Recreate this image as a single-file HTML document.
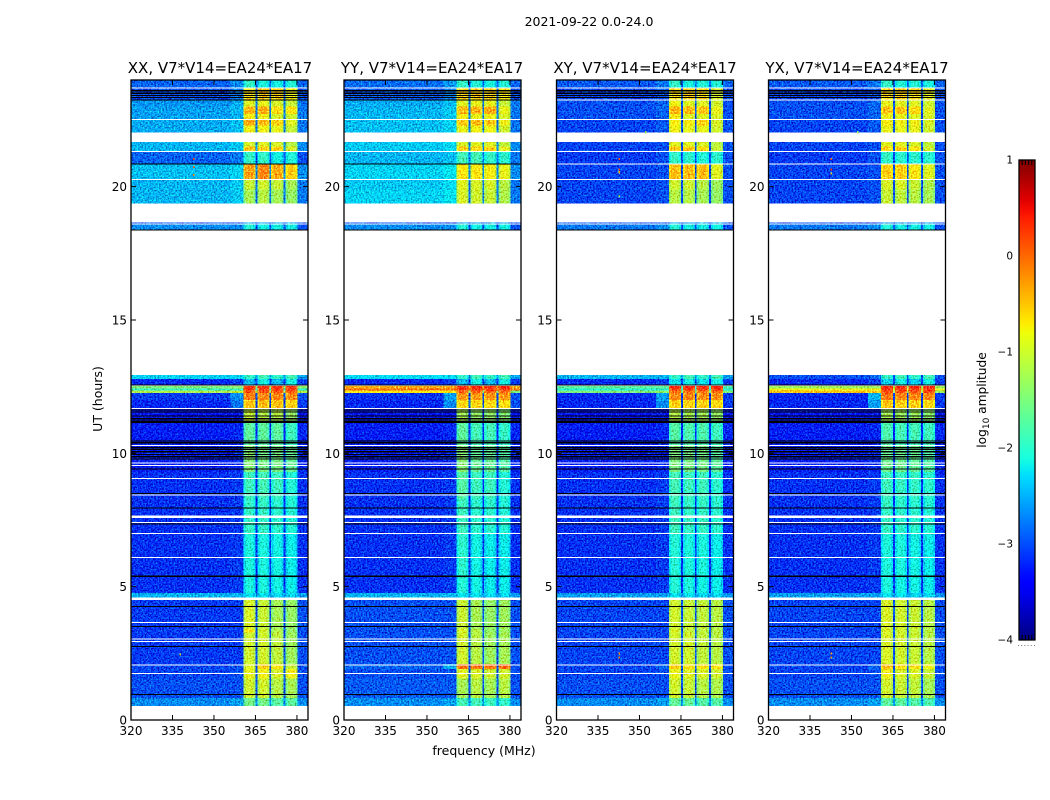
<!DOCTYPE html>
<html>
<head>
<meta charset="utf-8">
<title>2021-09-22 0.0-24.0</title>
<style>
html,body{margin:0;padding:0;background:#fff;}
svg{display:block;font-family:"DejaVu Sans","Liberation Sans",sans-serif;fill:#000;}
</style>
</head>
<body>
<svg id="figure" xmlns="http://www.w3.org/2000/svg" width="1050" height="800" viewBox="0 0 1050 800">
  <defs>
    <filter id="grain" x="0" y="0" width="100%" height="100%" color-interpolation-filters="sRGB">
      <feTurbulence type="fractalNoise" baseFrequency="0.62" numOctaves="2" seed="4" result="n"/>
      <feColorMatrix in="n" type="matrix" values="0.2 0 0 0 0.4  1 0 0 0 0  1 0 0 0 0  0 0 0 0 1" result="g"/>
      <feComposite in="SourceGraphic" in2="g" operator="arithmetic" k1="0" k2="1" k3="1.2" k4="-0.6" result="m"/>
      <feComposite in="m" in2="SourceAlpha" operator="in"/>
    </filter>
    <linearGradient id="jet-gradient" x1="0" y1="1" x2="0" y2="0"></linearGradient>
  </defs>
  <rect x="0" y="0" width="1050" height="800" fill="#fff"/>
  <text x="589" y="26" font-size="12.5" text-anchor="middle">2021-09-22 0.0-24.0</text>
  <text x="220" y="73" font-size="15" text-anchor="middle">XX, V7*V14=EA24*EA17</text>
  <text x="432" y="73" font-size="15" text-anchor="middle">YY, V7*V14=EA24*EA17</text>
  <text x="645" y="73" font-size="15" text-anchor="middle">XY, V7*V14=EA24*EA17</text>
  <text x="857" y="73" font-size="15" text-anchor="middle">YX, V7*V14=EA24*EA17</text>
  <text x="484" y="755" font-size="12.5" text-anchor="middle">frequency (MHz)</text>
  <text transform="translate(102,399) rotate(-90)" font-size="12.5" text-anchor="middle">UT (hours)</text>
  <text transform="translate(986,400) rotate(-90)" font-size="12.2" text-anchor="middle">log<tspan font-size="9" dy="3">10</tspan><tspan dy="-3"> amplitude</tspan></text>
  <g id="panels"></g>
  <g id="colorbar"></g>
</svg>
<script>
/* ---------- axis data ---------- */
const freqTicks = [320, 335, 350, 365, 380];
const hourTicks = [0, 5, 10, 15, 20];
const colorTicks = [1, 0, -1, -2, -3, -4];
const panelNames = ['xx', 'yy', 'xy', 'yx'];

/* ---------- frequency layout (MHz) ---------- */
const bgEdgesLeft = [320, 356];
const bgEdgesMid = [356, 360.6];
const bgEdgesRight = [380.1, 384];
const channelStarts = [360.6, 365.7, 370.7, 375.8];
const channelWidth = 4.45;
const channelProfile = [-0.14, 0.05, 0.08, 0.07, 0.04, -0.12];

/* ---------- time bands (hours) ---------- */
const bandStart = [23.70,23.25,23.00,22.72,22.52,22.30,22.04,21.50,21.34,20.87,20.27,19.90,19.37,18.62,18.39,12.78,12.56,12.43,12.35,12.26,12.00,11.70,11.15,10.30,9.30,8.30,7.00,5.40,4.76,4.53,3.40,3.28,2.10,1.92,1.55,0.82,0.53];
const bandEnd   = [24.00,23.70,23.25,23.00,22.72,22.50,22.30,21.69,21.50,21.30,20.83,20.25,19.90,18.65,18.58,12.94,12.78,12.52,12.43,12.35,12.26,12.00,11.66,11.15,10.30,9.30,8.30,7.00,5.40,4.76,4.50,3.40,3.28,2.10,1.92,1.55,0.82];

/* ---------- log10 amplitude per band: bgLeft, bgMid, bgRight, spw1..spw4 ---------- */
const levelsXX = [
[-2.9,-2.7,-2.9,-2.0,-2.15,-2.2,-2.1],[-3.0,-2.8,-3.0,-0.7,-0.55,-0.6,-0.85],[-2.65,-2.55,-2.8,-0.95,-0.9,-1.0,-1.1],
[-2.6,-2.5,-2.8,-0.45,-0.4,-0.7,-0.75],[-2.6,-2.5,-2.8,-0.8,-0.85,-1.0,-1.05],[-2.55,-2.45,-2.8,-0.4,-0.45,-0.6,-0.95],
[-2.55,-2.45,-2.8,-0.85,-0.85,-0.9,-1.1],[-2.5,-2.4,-2.7,-1.0,-0.95,-1.0,-1.2],[-2.5,-2.4,-2.7,-0.55,-0.6,-0.6,-1.0],
[-2.9,-2.8,-3.0,-2.0,-2.0,-2.2,-2.1],[-2.45,-2.35,-2.7,-0.35,-0.2,-0.4,-0.6],[-2.5,-2.4,-2.8,-1.1,-1.05,-1.1,-1.3],
[-2.5,-2.4,-2.8,-1.3,-1.2,-1.3,-1.4],[-3,-3,-3,-2.6,-2.6,-2.6,-2.6],[-2.7,-2.7,-3,-2.1,-2.2,-2.2,-2.2],
[-2.35,-2.35,-2.6,-2.0,-1.9,-2.0,-1.9],[-3.2,-3.1,-3.1,-2.5,-2.2,-2.5,-2.2],[-1.5,-1.4,-1.4,0.25,0.25,0.25,0.25],
[-1.9,-1.9,-2.0,0.15,0.15,0.15,0.15],[-1.2,-1.1,-1.2,0.05,0.05,0.05,0.05],[-3.1,-2.7,-3.0,-0.15,-0.2,-0.2,-0.25],
[-3.2,-2.8,-3.1,-0.55,-0.5,-0.5,-0.6],[-3.3,-3.3,-3.3,-1.1,-1.2,-1.2,-1.4],[-3.25,-3.2,-3.2,-1.75,-1.75,-1.75,-1.95],
[-3.25,-3.2,-3.2,-1.5,-1.6,-1.6,-1.7],[-3.15,-3.1,-3.15,-1.95,-1.9,-1.95,-2.1],[-3.15,-3.1,-3.15,-2.0,-2.0,-2.05,-2.1],
[-3.15,-3.1,-3.15,-2.15,-2.15,-2.2,-2.25],[-3.15,-3.1,-3.15,-2.15,-2.15,-2.2,-2.25],[-2.5,-2.5,-2.6,-2.3,-2.3,-2.35,-2.35],
[-3.1,-3.1,-3.0,-1.0,-1.1,-1.3,-1.4],[-3.1,-3.1,-3.0,-0.75,-1.05,-1.2,-1.4],[-3.1,-3.1,-3.0,-1.05,-1.05,-1.15,-1.35],
[-3.05,-3.0,-3.0,-0.95,-0.6,-0.75,-1.1],[-3.05,-3.0,-3.0,-0.9,-0.85,-1.0,-0.85],[-3.0,-3.0,-3.0,-1.05,-1.05,-1.2,-1.3],
[-2.7,-2.6,-2.7,-1.6,-1.6,-1.75,-1.75]];
const levelsYY = [
[-2.85,-2.65,-2.9,-2.0,-2.1,-2.15,-2.1],[-2.95,-2.75,-3.0,-0.65,-0.6,-0.6,-0.8],[-2.55,-2.45,-2.8,-0.95,-0.9,-0.9,-1.1],
[-2.5,-2.4,-2.8,-0.5,-0.45,-0.4,-0.9],[-2.5,-2.4,-2.8,-0.8,-0.9,-0.85,-1.0],[-2.45,-2.35,-2.8,-0.55,-0.5,-0.55,-0.85],
[-2.45,-2.35,-2.8,-0.9,-0.85,-0.85,-1.05],[-2.4,-2.3,-2.7,-1.0,-0.95,-0.95,-1.15],[-2.4,-2.3,-2.7,-0.6,-0.6,-0.6,-0.9],
[-2.5,-2.45,-2.8,-1.9,-1.9,-2.0,-2.05],[-2.35,-2.25,-2.7,-0.75,-0.75,-0.8,-0.9],[-2.4,-2.3,-2.8,-0.95,-1.0,-1.0,-1.2],
[-2.35,-2.25,-2.8,-1.0,-1.05,-1.1,-1.25],[-3,-3,-3,-2.6,-2.6,-2.6,-2.6],[-2.7,-2.7,-3,-2.1,-2.2,-2.2,-2.2],
[-2.3,-2.3,-2.6,-2.0,-1.9,-2.0,-1.9],[-3.2,-3.1,-3.1,-2.5,-2.2,-2.5,-2.2],[-0.35,-0.35,-0.35,0.3,0.3,0.3,0.3],
[-0.05,-0.05,-0.05,0.2,0.2,0.2,0.2],[-0.7,-0.7,-1.5,0.0,0.0,0.0,0.0],[-3.15,-2.6,-3.0,-0.3,-0.3,-0.3,-0.3],
[-3.2,-2.7,-3.0,-0.65,-0.65,-0.65,-0.7],[-3.3,-3.3,-3.3,-1.3,-1.4,-1.4,-1.5],[-3.25,-3.2,-3.2,-1.75,-1.9,-1.9,-2.0],
[-3.25,-3.2,-3.2,-1.5,-1.7,-1.7,-1.8],[-3.15,-3.1,-3.15,-1.8,-1.95,-1.95,-2.1],[-3.15,-3.1,-3.15,-1.95,-2.05,-2.05,-2.1],
[-3.15,-3.1,-3.15,-2.05,-2.2,-2.25,-2.25],[-3.15,-3.1,-3.15,-2.1,-2.2,-2.25,-2.25],[-2.5,-2.5,-2.6,-2.3,-2.3,-2.35,-2.35],
[-3.0,-3.0,-3.0,-1.1,-1.3,-1.4,-1.35],[-3.0,-3.0,-3.0,-1.0,-1.2,-1.4,-1.35],[-3.0,-3.0,-3.0,-1.05,-1.2,-1.35,-1.3],
[-2.9,-2.5,-3.0,-0.1,-0.1,-0.1,-0.05],[-3.0,-3.0,-3.0,-0.95,-1.0,-1.05,-1.05],[-2.95,-2.95,-3.0,-1.3,-1.2,-1.3,-1.2],
[-2.7,-2.6,-2.7,-1.9,-1.9,-1.95,-2.0]];
const levelsXY = [
[-2.95,-2.8,-2.9,-2.0,-2.15,-2.1,-2.1],[-3.05,-3.0,-3.0,-0.7,-0.6,-0.7,-1.0],[-3.0,-2.9,-3.0,-0.85,-0.95,-0.95,-1.05],
[-3.0,-2.9,-3.0,-0.45,-0.5,-0.55,-0.9],[-3.0,-2.9,-3.0,-0.8,-0.95,-0.95,-1.0],[-3.05,-2.95,-3.0,-0.8,-0.8,-0.6,-1.0],
[-3.05,-2.95,-3.0,-0.85,-0.9,-0.9,-1.05],[-3.05,-3.0,-3.0,-0.95,-0.95,-1.0,-1.15],[-3.05,-3.0,-3.0,-0.55,-0.55,-0.7,-1.1],
[-3.1,-3.0,-3.0,-2.0,-2.05,-2.1,-2.05],[-3.05,-3.0,-3.0,-0.5,-0.5,-0.5,-0.95],[-3.05,-3.0,-3.0,-1.05,-1.05,-1.2,-1.35],
[-3.05,-3.0,-3.0,-1.2,-1.2,-1.3,-1.4],[-3,-3,-3,-2.6,-2.6,-2.6,-2.6],[-2.8,-2.7,-3,-2.1,-2.2,-2.2,-2.2],
[-2.5,-2.5,-2.6,-2.0,-1.9,-2.0,-1.9],[-3.2,-3.1,-3.1,-2.3,-2.2,-2.3,-2.2],[-1.7,-1.7,-1.8,0.3,0.3,0.3,0.3],
[-2.0,-2.0,-2.0,0.15,0.15,0.15,0.15],[-1.5,-1.4,-1.5,-0.1,-0.1,-0.1,-0.1],[-3.2,-2.6,-3.1,-0.2,-0.2,-0.25,-0.25],
[-3.2,-2.7,-3.1,-0.6,-0.6,-0.6,-0.65],[-3.3,-3.3,-3.3,-1.2,-1.3,-1.3,-1.4],[-3.25,-3.2,-3.2,-1.8,-1.85,-1.85,-1.95],
[-3.25,-3.2,-3.2,-1.55,-1.6,-1.6,-1.75],[-3.15,-3.1,-3.15,-1.9,-1.95,-1.95,-2.05],[-3.15,-3.1,-3.15,-1.95,-2.0,-2.0,-2.05],
[-3.15,-3.1,-3.15,-2.1,-2.15,-2.15,-2.25],[-3.15,-3.1,-3.15,-2.1,-2.15,-2.2,-2.25],[-2.6,-2.6,-2.65,-2.3,-2.3,-2.35,-2.35],
[-3.05,-3.05,-3.0,-1.05,-1.1,-1.15,-1.2],[-3.05,-3.05,-3.0,-1.0,-1.1,-1.15,-1.2],[-3.05,-3.05,-3.0,-1.05,-1.05,-1.15,-1.2],
[-3.05,-2.9,-3.0,-0.6,-0.7,-0.75,-0.75],[-3.05,-3.0,-3.0,-0.9,-0.95,-1.0,-1.05],[-3.0,-3.0,-3.0,-1.05,-1.1,-1.2,-1.25],
[-2.7,-2.6,-2.7,-1.7,-1.7,-1.8,-1.8]];
const levelsYX = [
[-2.95,-2.8,-2.9,-2.0,-2.1,-2.1,-2.15],[-3.05,-3.0,-3.0,-0.65,-0.6,-0.7,-0.95],[-3.0,-2.9,-3.0,-0.9,-0.95,-0.95,-1.05],
[-3.0,-2.9,-3.0,-0.55,-0.55,-0.65,-0.95],[-3.0,-2.9,-3.0,-0.85,-0.9,-0.95,-1.0],[-3.05,-2.95,-3.0,-0.8,-0.85,-0.85,-1.0],
[-3.05,-2.95,-3.0,-0.9,-0.9,-0.9,-1.05],[-3.05,-3.0,-3.0,-0.95,-0.95,-1.0,-1.15],[-3.05,-3.0,-3.0,-0.6,-0.6,-0.7,-1.05],
[-3.1,-3.0,-3.0,-2.0,-2.05,-2.05,-2.05],[-3.05,-3.0,-3.0,-0.6,-0.6,-0.75,-0.95],[-3.05,-3.0,-3.0,-1.0,-1.0,-1.1,-1.25],
[-3.05,-3.0,-3.0,-1.1,-1.15,-1.2,-1.3],[-3,-3,-3,-2.6,-2.6,-2.6,-2.6],[-2.8,-2.7,-3,-2.1,-2.2,-2.2,-2.2],
[-3.0,-2.9,-3.0,-2.0,-1.9,-2.0,-1.9],[-3.2,-3.1,-3.1,-2.4,-2.2,-2.4,-2.2],[-1.3,-1.3,-1.3,0.3,0.3,0.3,0.3],
[-0.8,-0.8,-0.8,0.2,0.2,0.2,0.2],[-0.5,-0.5,-1.3,0.1,0.1,0.1,0.1],[-3.2,-2.5,-3.1,-0.1,-0.2,-0.2,-0.2],
[-3.2,-2.6,-3.1,-0.55,-0.6,-0.6,-0.65],[-3.3,-3.3,-3.3,-1.3,-1.35,-1.35,-1.45],[-3.25,-3.2,-3.2,-1.85,-1.9,-1.9,-1.95],
[-3.25,-3.2,-3.2,-1.65,-1.65,-1.7,-1.8],[-3.15,-3.1,-3.15,-1.95,-2.0,-2.0,-2.05],[-3.15,-3.1,-3.15,-2.0,-2.05,-2.05,-2.1],
[-3.15,-3.1,-3.15,-2.15,-2.15,-2.2,-2.25],[-3.15,-3.1,-3.15,-2.15,-2.2,-2.2,-2.25],[-2.6,-2.6,-2.65,-2.3,-2.3,-2.35,-2.35],
[-3.05,-3.05,-3.0,-1.0,-1.05,-1.1,-1.2],[-3.05,-3.05,-3.0,-1.0,-1.05,-1.1,-1.2],[-3.05,-3.05,-3.0,-1.0,-1.05,-1.1,-1.2],
[-3.05,-2.9,-3.0,-0.5,-0.7,-0.75,-0.85],[-3.05,-3.0,-3.0,-0.85,-1.0,-1.0,-1.1],[-3.0,-3.0,-3.0,-1.05,-1.1,-1.15,-1.3],
[-2.7,-2.6,-2.7,-1.75,-1.75,-1.8,-1.85]];
const panelLevels = [levelsXX, levelsYY, levelsXY, levelsYX];

/* ---------- flagged integrations (hours) ---------- */
const whiteHours = [23.70,22.52,21.70,21.32,20.27,18.60,11.68,10.30,9.63,9.55,9.06,8.43,7.62,7.40,7.00,6.10,4.55,3.65,3.03,2.95,2.07,1.75];
const blackHours = [23.60,23.50,23.42,23.34,18.37,12.56,11.62,11.55,11.40,11.30,11.20,11.16,10.46,10.40,10.22,10.15,10.06,9.96,9.87,9.79,9.41,8.49,7.95,7.35,5.39,4.26,3.51,2.76,0.96];
const crossWhiteHours = [23.25, 20.85];
const parallelBlackHours = [23.25, 20.85];

/* ---------- narrow interference spots: panel index, MHz, hour, log10 amplitude ---------- */
const rfiPanel = [0,0,0,2,2,2,2,3,3,3,2,2,3,3,0,2,3];
const rfiFreq  = [342.5,342.5,342.5,342.5,342.5,342.5,342.5,342.5,342.5,342.5,342.5,342.5,342.5,342.5,337.5,352,352];
const rfiHour  = [21.0,20.7,20.4,21.0,20.6,20.5,19.6,21.0,20.6,20.45,2.45,2.3,2.45,2.3,2.42,22.0,22.0];
const rfiLevel = [0.1,0.1,-0.2,0.1,0.1,-0.5,-1.4,0.1,0.1,-0.5,-0.3,-0.3,-0.3,-0.3,-1.0,-1.3,-1.3];

/* ---------- axis functions ---------- */
const panelLeft = [131, 344, 556.5, 768.5];
const panelWidth = 177;
const plotTop = 80;
const plotBottom = 720;
const freqMin = 320, freqMax = 384, hourMin = 0, hourMax = 24;
const colorMin = -4, colorMax = 1;
function xScale(p, f) { return panelLeft[p] + (f - freqMin) / (freqMax - freqMin) * panelWidth; }
function yScale(h) { return plotBottom - (h - hourMin) / (hourMax - hourMin) * (plotBottom - plotTop); }
function seg(v, pts) {
  for (let i = 1; i < pts.length; i++) {
    if (v <= pts[i][0]) {
      const a = pts[i - 1], b = pts[i];
      return a[1] + (b[1] - a[1]) * (v - a[0]) / (b[0] - a[0]);
    }
  }
  return pts[pts.length - 1][1];
}
function jet(t) {
  t = Math.max(0, Math.min(1, t));
  const r = seg(t, [[0,0],[0.35,0],[0.66,1],[0.89,1],[1,0.5]]);
  const g = seg(t, [[0,0],[0.125,0],[0.375,1],[0.64,1],[0.91,0],[1,0]]);
  const b = seg(t, [[0,0.5],[0.11,1],[0.34,1],[0.65,0],[1,0]]);
  return 'rgb(' + Math.round(r * 255) + ',' + Math.round(g * 255) + ',' + Math.round(b * 255) + ')';
}
function colorOf(v) { return jet((v - colorMin) / (colorMax - colorMin)); }

const NS = 'http://www.w3.org/2000/svg';
function make(tag, parent, attrs) {
  const el = document.createElementNS(NS, tag);
  for (const k in attrs) el.setAttribute(k, attrs[k]);
  parent.appendChild(el);
  return el;
}
function cell(parent, p, f0, f1, h0, h1, fill) {
  const y1 = yScale(h1), y0 = yScale(h0);
  const el = make('rect', parent, {
    x: xScale(p, f0), width: xScale(p, f1) - xScale(p, f0),
    y: y1, height: Math.max(y0 - y1, 0.5),
    fill: fill, 'shape-rendering': 'crispEdges'
  });
  return el;
}

const panelsRoot = document.getElementById('panels');
panelNames.forEach(function (name, p) {
  const group = make('g', panelsRoot, {});
  
  

  const heat = make('g', group, { filter: 'url(#grain)' });
  
  

  panelLevels[p].forEach(function (row, b) {
    const h0 = bandStart[b], h1 = bandEnd[b];
    const c1 = cell(heat, p, bgEdgesLeft[0], bgEdgesLeft[1], h0, h1, colorOf(row[0]));
    
    
    const c2 = cell(heat, p, bgEdgesMid[0], bgEdgesMid[1], h0, h1, colorOf(row[1]));
    
    
    const c3 = cell(heat, p, channelStarts[0], bgEdgesRight[1], h0, h1, colorOf(row[2]));
    
    
    channelStarts.forEach(function (start, s) {
      const w = channelWidth / channelProfile.length;
      channelProfile.forEach(function (d, k) {
        const c = cell(heat, p, start + k * w, start + (k + 1) * w, h0, h1, colorOf(row[3 + s] + d));
        
        
      });
    });
  });

  rfiPanel.forEach(function (owner, i) {
    if (owner !== p) return;
    const c = cell(heat, p, rfiFreq[i], rfiFreq[i] + 0.5, rfiHour[i], rfiHour[i] + 0.08, colorOf(rfiLevel[i]));
    
    
  });

  const isCross = p >= 2;
  const blacks = isCross ? blackHours : blackHours.concat(parallelBlackHours);
  const whites = isCross ? whiteHours.concat(crossWhiteHours) : whiteHours;
  blacks.forEach(function (h) {
    const c = cell(group, p, freqMin, freqMax, h - 0.022, h + 0.022, '#000');
    
    
  });
  whites.forEach(function (h) {
    const span = (h === 7.62 || h === 4.55) ? 0.04 : 0.02;
    const c = cell(group, p, freqMin, freqMax, h - span, h + span, '#fff');
    
    
  });

  const frame = make('rect', group, {
    x: panelLeft[p], y: plotTop, width: panelWidth, height: plotBottom - plotTop,
    fill: 'none', stroke: '#000', 'stroke-width': 1.3
  });
  
  

  freqTicks.forEach(function (f) {
    const x = xScale(p, f);
    const t1 = make('line', group, { x1: x, x2: x, y1: plotBottom, y2: plotBottom - 5, stroke: '#000', 'stroke-width': 1 });
    
    
    const t2 = make('line', group, { x1: x, x2: x, y1: plotTop, y2: plotTop + 5, stroke: '#000', 'stroke-width': 1 });
    
    
    const lab = make('text', group, { x: x, y: 735, 'font-size': 12, 'text-anchor': 'middle' });
    lab.textContent = String(f);
    
    
  });
  hourTicks.forEach(function (h) {
    const y = yScale(h);
    const x0 = panelLeft[p], x1 = x0 + panelWidth;
    const t1 = make('line', group, { x1: x0, x2: x0 + 5, y1: y, y2: y, stroke: '#000', 'stroke-width': 1 });
    
    
    const t2 = make('line', group, { x1: x1, x2: x1 - 5, y1: y, y2: y, stroke: '#000', 'stroke-width': 1 });
    
    
    const lab = make('text', group, { x: x0 - 4, y: y + 4.5, 'font-size': 12, 'text-anchor': 'end' });
    lab.textContent = String(h);
    
    
  });
});

/* ---------- colorbar ---------- */
const cbarLeft = 1019, cbarWidth = 16, cbarTop = 160, cbarBottom = 640;
function cbarY(v) { return cbarBottom - (v - colorMin) / (colorMax - colorMin) * (cbarBottom - cbarTop); }
const grad = document.getElementById('jet-gradient');
for (let i = 0; i <= 50; i++) {
  make('stop', grad, { offset: (i * 2) + '%', 'stop-color': jet(i / 50) });
}
const cbarRoot = document.getElementById('colorbar');
const strip = make('rect', cbarRoot, { x: cbarLeft, y: cbarTop, width: cbarWidth, height: cbarBottom - cbarTop, fill: 'url(#jet-gradient)' });


const cbarFrame = make('rect', cbarRoot, { x: cbarLeft, y: cbarTop, width: cbarWidth, height: cbarBottom - cbarTop, fill: 'none', stroke: '#000', 'stroke-width': 1.3 });


[0.2, 0.4, 0.6, 0.8].forEach(function (frac) {
  const x = cbarLeft + frac * cbarWidth;
  const a = make('line', cbarRoot, { x1: x, x2: x, y1: cbarTop, y2: cbarTop + 5, stroke: '#000', 'stroke-width': 1 });
  
  
  const b = make('line', cbarRoot, { x1: x, x2: x, y1: cbarBottom, y2: cbarBottom - 5, stroke: '#000', 'stroke-width': 1 });
  
  
});
colorTicks.forEach(function (v) {
  const lab = make('text', cbarRoot, { x: 1013, y: cbarY(v) + 3.5, 'font-size': 10.5, 'text-anchor': 'end' });
  lab.textContent = v < 0 ? '\u2212' + Math.abs(v) : String(v);
  
  
});
[0, 1, 2, 3, 4, 5].forEach(function (i) {
  const d = make('rect', cbarRoot, { x: 1018 + i * 3.2, y: 645, width: 1, height: 1, fill: '#777' });
  
  
});
</script>
</body>
</html>
